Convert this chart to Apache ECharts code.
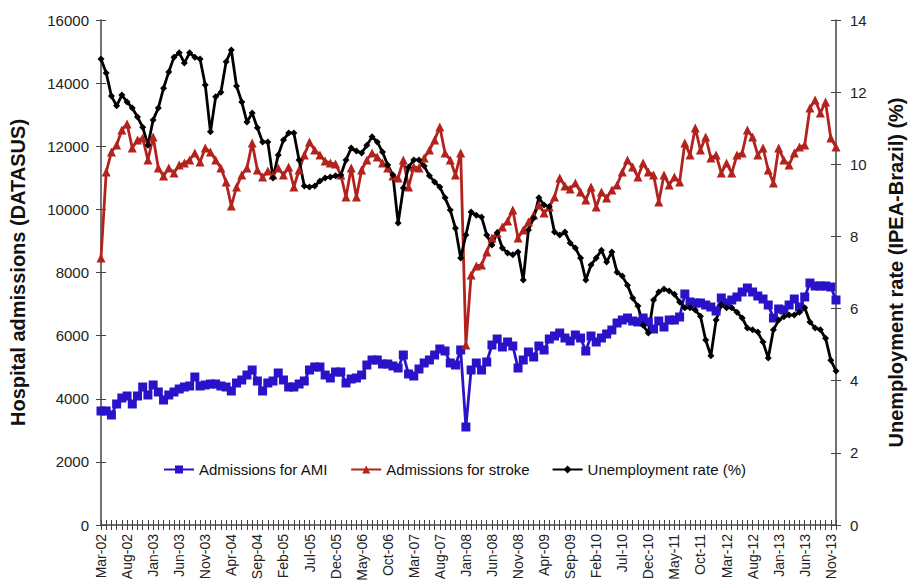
<!DOCTYPE html>
<html>
<head>
<meta charset="utf-8">
<script src="https://cdn.jsdelivr.net/npm/echarts@6/dist/echarts.min.js"></script>
<style>
  html, body { margin: 0; padding: 0; background: #fff; }
  #chart { width: 914px; height: 588px; }
</style>
</head>
<body>
<div id="chart"></div>
<script>
// monthly labels Mar-02 .. Dec-13
const monthNames = ['Jan', 'Feb', 'Mar', 'Apr', 'May', 'Jun', 'Jul', 'Aug', 'Sep', 'Oct', 'Nov', 'Dec']
const months = []
for (let y = 2002; y <= 2013; y++) {
  for (let m = 0; m < 12; m++) {
    if (y === 2002 && m < 2) continue
    months.push(monthNames[m] + '-' + String(y).slice(2))
  }
}

const amiAdmissions = [
  3612, 3612, 3485, 3834, 4024, 4087, 3834, 4087, 4372, 4119, 4436, 4214, 3960, 4119, 4214, 4309, 4372, 4404, 4689, 4404,
  4436, 4467, 4467, 4404, 4372, 4246, 4499, 4594, 4752, 4911, 4562, 4246, 4499, 4562, 4816, 4594, 4372, 4372, 4467, 4562,
  4911, 5006, 5006, 4752, 4657, 4847, 4847, 4499, 4626, 4657, 4752, 5069, 5228, 5228, 5101, 5101, 5038, 4974, 5386, 4784,
  4721, 4943, 5133, 5228, 5386, 5576, 5513, 5133, 5069, 5545, 3105, 4911, 5133, 4911, 5164, 5703, 5893, 5640, 5798, 5671,
  4974, 5228, 5481, 5323, 5671, 5545, 5893, 5988, 6083, 5925, 5830, 6020, 5925, 5513, 5988, 5798, 5925, 6051, 6178, 6400,
  6495, 6558, 6463, 6432, 6558, 6432, 6210, 6463, 6273, 6495, 6495, 6590, 7319, 7065, 7034, 7034, 6970, 6907, 6780, 7192,
  7034, 7129, 7224, 7382, 7509, 7382, 7255, 7160, 6970, 6558, 6844, 6812, 6970, 7160, 6907, 7224, 7667, 7572, 7572, 7572,
  7541, 7129
]
const strokeAdmissions = [
  8459, 11184, 11818, 12040, 12515, 12705, 11944, 12198, 12261, 11564, 12293, 11311, 11057, 11311, 11152, 11406, 11469, 11564, 11786, 11501,
  11944, 11818, 11564, 11311, 10867, 10107, 10709, 11089, 11311, 12103, 11247, 11026, 11216, 11089, 11311, 11089, 11343, 10709, 11247, 11723,
  12135, 11881, 11723, 11533, 11469, 11438, 11089, 10392, 11311, 10392, 11247, 11564, 11786, 11659, 11469, 11311, 11057, 10994, 11564, 10709,
  11343, 11311, 11628, 11881, 12198, 12610, 11786, 11564, 11089, 11786, 5703, 7921, 8206, 8238, 8649, 9093, 9251, 9442, 9632, 9980,
  9093, 9346, 9600, 9822, 10139, 9885, 10075, 10392, 10994, 10741, 10645, 10836, 10550, 10297, 10709, 10075, 10550, 10360, 10614, 10772,
  11184, 11564, 11343, 11026, 11469, 11184, 11089, 10234, 11089, 10772, 11026, 10867, 12103, 11723, 12578, 11881, 12293, 11628, 11723, 11152,
  11469, 11152, 11723, 11786, 12515, 12293, 11723, 11944, 11247, 10836, 11944, 11564, 11406, 11786, 11976, 12040, 13212, 13465, 13053, 13402,
  12261, 11976
]
const unemploymentRate = [
  12.92, 12.53, 11.89, 11.62, 11.92, 11.73, 11.56, 11.31, 11.03, 10.53, 11.23, 11.56, 12.11, 12.56, 12.97, 13.09, 12.81, 13.09, 12.97, 12.92,
  12.20, 10.90, 11.87, 12.00, 12.84, 13.17, 12.17, 11.73, 11.17, 11.42, 11.01, 10.62, 10.62, 9.62, 10.26, 10.67, 10.87, 10.87, 10.12, 9.40,
  9.37, 9.40, 9.54, 9.62, 9.65, 9.68, 9.70, 10.12, 10.45, 10.37, 10.31, 10.53, 10.76, 10.62, 10.34, 9.98, 9.70, 8.37, 9.34, 9.92,
  10.12, 10.12, 9.95, 9.68, 9.51, 9.37, 9.07, 8.73, 8.23, 7.40, 8.04, 8.68, 8.59, 8.54, 8.04, 7.76, 8.10, 7.68, 7.54, 7.49,
  7.57, 6.79, 8.18, 8.51, 9.07, 8.87, 8.82, 8.12, 8.04, 8.12, 7.82, 7.68, 7.40, 6.79, 7.21, 7.40, 7.62, 7.29, 7.57, 7.01,
  6.90, 6.65, 6.29, 6.07, 5.54, 5.32, 6.24, 6.46, 6.54, 6.49, 6.40, 6.18, 6.02, 6.02, 5.96, 5.79, 5.13, 4.69, 5.68, 6.10,
  6.02, 6.02, 5.90, 5.74, 5.46, 5.41, 5.35, 5.07, 4.63, 5.41, 5.68, 5.77, 5.82, 5.82, 5.90, 6.02, 5.63, 5.46, 5.41, 5.18,
  4.57, 4.27
]

const chart = echarts.init(document.getElementById('chart'), null, { renderer: 'svg' })

const font = 'Liberation Sans, Arial, sans-serif'
const axisCol = '#444'

let option = {
  animation: false,
  backgroundColor: '#fff',
  textStyle: { fontFamily: font },
  grid: { left: 100, right: 59, top: 20, bottom: 63, containLabel: false },
  legend: {
    left: 158,
    top: 457,
    itemGap: 22,
    itemWidth: 30,
    itemHeight: 10,
    textStyle: { fontSize: 15, color: '#111', fontFamily: font },
    data: ['Admissions for AMI', 'Admissions for stroke', 'Unemployment rate (%)']
  },
  xAxis: [
    {
      type: 'category',
      data: months,
      boundaryGap: false,
      axisLine: { lineStyle: { color: axisCol, width: 1.5 } },
      axisTick: { interval: 0, length: 5, lineStyle: { color: axisCol } },
      axisLabel: { interval: 4, rotate: 90, fontSize: 14, color: '#222', margin: 9, fontFamily: font }
    },
    {
      // inner half of the crossing ticks
      type: 'category',
      data: months,
      position: 'bottom',
      boundaryGap: false,
      axisLine: { show: false },
      axisTick: { interval: 0, inside: true, length: 5, lineStyle: { color: axisCol } },
      axisLabel: { show: false }
    }
  ],
  yAxis: [
    {
      type: 'value',
      min: 0,
      max: 16000,
      interval: 2000,
      position: 'left',
      name: 'Hospital admissions (DATASUS)',
      nameLocation: 'middle',
      nameRotate: 90,
      nameGap: 73,
      nameTextStyle: { fontSize: 20, fontWeight: 'bold', color: '#111', fontFamily: font },
      splitLine: { show: false },
      axisLine: { show: true, lineStyle: { color: axisCol, width: 1.5 } },
      axisTick: { show: true, length: 5, lineStyle: { color: axisCol } },
      axisLabel: { fontSize: 15, color: '#222', margin: 12, fontFamily: font, formatter: v => String(v) }
    },
    {
      type: 'value',
      min: 0,
      max: 14,
      interval: 2,
      position: 'right',
      name: 'Unemployment rate (IPEA-Brazil) (%)',
      nameLocation: 'middle',
      nameRotate: 90,
      nameGap: 50,
      nameTextStyle: { fontSize: 20, fontWeight: 'bold', color: '#111', fontFamily: font },
      splitLine: { show: false },
      axisLine: { show: true, lineStyle: { color: axisCol, width: 1.5 } },
      axisTick: { show: true, length: 5, lineStyle: { color: axisCol } },
      axisLabel: { fontSize: 15, color: '#222', margin: 14, fontFamily: font }
    },
    {
      type: 'value', min: 0, max: 16000, interval: 2000, position: 'left',
      splitLine: { show: false }, axisLine: { show: false }, axisLabel: { show: false },
      axisTick: { show: true, inside: true, length: 5, lineStyle: { color: axisCol } }
    },
    {
      type: 'value', min: 0, max: 14, interval: 2, position: 'right',
      splitLine: { show: false }, axisLine: { show: false }, axisLabel: { show: false },
      axisTick: { show: true, inside: true, length: 5, lineStyle: { color: axisCol } }
    }
  ],
  series: [
    {
      name: 'Admissions for AMI',
      type: 'line',
      data: amiAdmissions,
      yAxisIndex: 0,
      symbol: 'rect',
      symbolSize: 9,
      showAllSymbol: true,
      color: '#2a12c9',
      lineStyle: { width: 2.8, color: '#2a12c9' },
      itemStyle: { color: '#2a12c9' }
    },
    {
      name: 'Admissions for stroke',
      type: 'line',
      data: strokeAdmissions,
      yAxisIndex: 0,
      symbol: 'triangle',
      symbolSize: 9,
      showAllSymbol: true,
      color: '#b3221c',
      lineStyle: { width: 2.8, color: '#b3221c' },
      itemStyle: { color: '#b3221c' }
    },
    {
      name: 'Unemployment rate (%)',
      type: 'line',
      data: unemploymentRate,
      yAxisIndex: 1,
      symbol: 'diamond',
      symbolSize: 7,
      showAllSymbol: true,
      color: '#000',
      lineStyle: { width: 2.8, color: '#000' },
      itemStyle: { color: '#000' }
    }
  ]
}

chart.setOption(option)
</script>
</body>
</html>
